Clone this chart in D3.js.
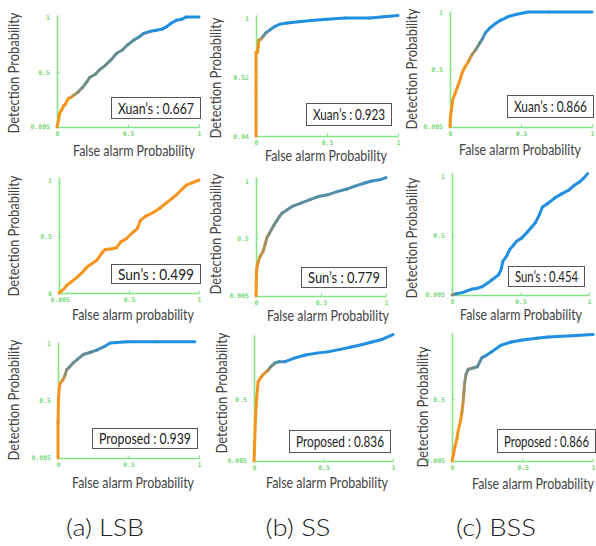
<!DOCTYPE html>
<html>
<head>
<meta charset="utf-8">
<script src="https://cdn.jsdelivr.net/npm/d3@7"></script>
<style>
  html, body { margin: 0; padding: 0; background: #fff; }
  svg { display: block; }
</style>
</head>
<body>
<svg id="chart" width="596" height="546"></svg>
<script>
// ---------- DATA ----------
// each point: [false alarm probability, detection probability, colour mix (0 = orange, 1 = blue)]
const lsbXuan = [[0,0,0],[0.01,0.06,0],[0.02,0.13,0],[0.035,0.16,0],[0.045,0.19,0],[0.06,0.21,0],[0.08,0.26,0],[0.1,0.27,0.05],[0.12,0.29,0.2],[0.15,0.32,0.4],[0.18,0.36,0.5],[0.21,0.41,0.5],[0.23,0.45,0.5],[0.27,0.48,0.5],[0.30,0.52,0.5],[0.34,0.56,0.52],[0.38,0.61,0.55],[0.42,0.67,0.55],[0.46,0.70,0.58],[0.50,0.75,0.6],[0.54,0.79,0.62],[0.58,0.82,0.7],[0.61,0.85,0.8],[0.66,0.87,0.9],[0.70,0.88,1],[0.74,0.89,1],[0.77,0.91,1],[0.80,0.94,1],[0.84,0.97,1],[0.88,0.98,1],[0.91,1.0,1],[1,1,1]];
const ssXuan = [[0,0.04,0],[0,0.4,0],[0,0.72,0],[0.01,0.72,0],[0.015,0.76,0],[0.02,0.82,0.05],[0.035,0.83,0.2],[0.05,0.85,0.45],[0.07,0.88,0.6],[0.1,0.905,0.8],[0.13,0.93,0.95],[0.17,0.95,1],[0.22,0.96,1],[0.3,0.97,1],[0.39,0.98,1],[0.5,0.99,1],[0.63,1.0,1],[0.8,1.0,1],[0.9,1.01,1],[1,1.02,1]];
const bssXuan = [[0,0,0],[0.003,0.09,0],[0.01,0.15,0],[0.02,0.24,0],[0.035,0.29,0],[0.05,0.34,0],[0.065,0.39,0],[0.085,0.47,0],[0.105,0.52,0],[0.13,0.57,0.05],[0.155,0.63,0.2],[0.18,0.67,0.4],[0.21,0.73,0.55],[0.23,0.77,0.65],[0.25,0.82,0.8],[0.28,0.86,0.95],[0.32,0.90,1],[0.36,0.93,1],[0.41,0.96,1],[0.47,0.98,1],[0.55,1.0,1],[0.7,1.0,1],[1,1.0,1]];
const lsbSun = [[0,0,0],[0.03,0.03,0],[0.057,0.07,0],[0.09,0.1,0],[0.13,0.14,0],[0.165,0.18,0],[0.2,0.23,0],[0.235,0.26,0],[0.27,0.29,0],[0.31,0.36,0],[0.33,0.385,0],[0.37,0.39,0],[0.41,0.40,0],[0.44,0.45,0],[0.48,0.48,0],[0.53,0.54,0],[0.56,0.57,0],[0.58,0.64,0],[0.62,0.68,0],[0.67,0.71,0],[0.72,0.75,0],[0.77,0.80,0],[0.81,0.84,0],[0.84,0.87,0],[0.88,0.92,0],[0.91,0.955,0],[0.95,0.975,0],[1,1.0,0]];
const ssSun = [[0,0,0],[0.002,0.1,0],[0.005,0.23,0],[0.015,0.29,0.05],[0.03,0.34,0.15],[0.055,0.39,0.25],[0.07,0.45,0.3],[0.085,0.51,0.35],[0.1,0.54,0.4],[0.12,0.58,0.45],[0.14,0.62,0.5],[0.16,0.655,0.5],[0.18,0.69,0.55],[0.2,0.72,0.55],[0.24,0.75,0.6],[0.28,0.78,0.6],[0.35,0.81,0.62],[0.42,0.84,0.65],[0.48,0.865,0.65],[0.55,0.88,0.68],[0.63,0.91,0.7],[0.7,0.93,0.72],[0.76,0.955,0.75],[0.83,0.98,0.78],[0.89,1.0,0.8],[0.95,1.01,0.82],[1,1.03,0.85]];
const bssSun = [[0,0,0],[0.03,0.01,0.9],[0.073,0.02,1],[0.11,0.035,1],[0.146,0.05,1],[0.18,0.055,1],[0.22,0.07,1],[0.26,0.1,1],[0.29,0.125,1],[0.34,0.17,1],[0.36,0.22,1],[0.37,0.28,1],[0.4,0.33,1],[0.42,0.38,1],[0.45,0.42,1],[0.47,0.45,1],[0.51,0.48,1],[0.55,0.53,1],[0.58,0.57,1],[0.61,0.61,1],[0.64,0.68,1],[0.66,0.74,1],[0.7,0.77,1],[0.75,0.815,1],[0.8,0.85,1],[0.85,0.88,1],[0.89,0.92,1],[0.93,0.95,1],[0.96,0.98,1],[0.99,1.02,1]];
const lsbProp = [[0,0,0],[0,0.3,0],[0.003,0.5,0],[0.008,0.6,0],[0.015,0.65,0],[0.035,0.68,0.1],[0.05,0.72,0.3],[0.06,0.765,0.45],[0.08,0.79,0.5],[0.11,0.83,0.55],[0.14,0.86,0.55],[0.18,0.9,0.6],[0.23,0.92,0.6],[0.28,0.94,0.7],[0.33,0.97,0.85],[0.37,1.0,1],[0.49,1.01,1],[0.7,1.01,1],[0.97,1.01,1]];
const ssProp = [[0,0,0],[0.005,0.15,0],[0.01,0.33,0],[0.02,0.52,0],[0.03,0.64,0],[0.06,0.69,0],[0.1,0.73,0.2],[0.12,0.76,0.45],[0.15,0.79,0.55],[0.18,0.8,0.7],[0.22,0.80,0.85],[0.29,0.83,1],[0.37,0.855,1],[0.45,0.87,1],[0.53,0.88,1],[0.62,0.9,1],[0.7,0.92,1],[0.78,0.94,1],[0.85,0.96,1],[0.92,0.98,1],[1,1.02,1]];
const bssProp = [[0,0,0],[0.01,0.05,0],[0.02,0.11,0],[0.035,0.18,0],[0.045,0.25,0],[0.06,0.32,0],[0.07,0.39,0.05],[0.08,0.49,0.25],[0.085,0.56,0.3],[0.09,0.63,0.35],[0.1,0.7,0.45],[0.115,0.74,0.5],[0.15,0.75,0.5],[0.18,0.76,0.55],[0.21,0.83,0.7],[0.24,0.85,0.85],[0.28,0.88,1],[0.35,0.935,1],[0.42,0.96,1],[0.5,0.975,1],[0.6,0.99,1],[0.68,1.0,1],[0.85,1.01,1],[1,1.02,1]];

const aucLabels = ["Xuan\u2019s : 0.667","Xuan\u2019s : 0.923","Xuan\u2019s : 0.866",
                   "Sun\u2019s : 0.499","Sun\u2019s :  0.779","Sun\u2019s : 0.454",
                   "Proposed : 0.939","Proposed : 0.836","Proposed : 0.866"];
const xTitles = ["False alarm Probability","False alarm Probability","False alarm Probability",
                 "False alarm probability","False alarm Probability","False alarm Probability",
                 "False alarm Probability","False alarm Probability","False alarm Probability"];
const yTitle = "Detection Probability";
const yTickSets = [[0.005,0.5,1],[0.04,0.52,1],[0.005,0.5,1],
                   [0,0.5,1],[0.005,0.5,1],[0.005,0.5,1],
                   [0.005,0.5,1],[0.005,0.5],[0.005,0.5]];
const xTickSets = [[0,0.5,1],[0,0.5,1],[0,0.5,1],
                   [0.005,0.5,1],[0,0.5,1],[0,0.5,1],
                   [0,0.5,1],[0,0.5,1],[0,0.5,1]];
const captions = ["(a)  LSB","(b)  SS","(c)  BSS"];
const curves = [lsbXuan, ssXuan, bssXuan, lsbSun, ssSun, bssSun, lsbProp, ssProp, bssProp];

// ---------- LAYOUT (pixels) ----------
const layout = [
  {x:[57,199],  y:[127,17],  yd:[0,1],    axTop:15,  title:[14,73],   xt:[134,156], box:[111,97,89,21]},
  {x:[256,398], y:[136,18],  yd:[0.04,1], axTop:15,  title:[216,78],  xt:[326,161], box:[306,103,85,22]},
  {x:[450,592], y:[127,12],  yd:[0,1],    axTop:11,  title:[412,69],  xt:[520,155], box:[507,95,86,22]},
  {x:[59,199],  y:[293,180], yd:[0,1],    axTop:177, title:[14,236],  xt:[133,320], box:[111,264,89,19]},
  {x:[256,386], y:[296,181], yd:[0,1],    axTop:177, title:[216,234], xt:[328,321], box:[301,267,85,20]},
  {x:[452,589], y:[295,176], yd:[0,1],    axTop:173, title:[412,238], xt:[521,320], box:[508,266,76,20]},
  {x:[58,199],  y:[458,343], yd:[0,1],    axTop:342, title:[14,400],  xt:[133,488], box:[92,428,105,20]},
  {x:[254,393], y:[461,337], yd:[0,1],    axTop:335, title:[222,393], xt:[327,488], box:[289,430,101,22]},
  {x:[452,593], y:[461,337], yd:[0,1],    axTop:333, title:[423,407], xt:[533,489], box:[497,429,98,23]}
];
const captionPos = [[105,536,78],[298,536,65],[496,536,80]];

const green = "#84e384";
const tickGreen = "#78d878";
const textFont = "Lato, 'Noto Sans', sans-serif";
const colorScale = d3.scaleLinear().domain([0,0.5,1]).range(["#f7941d","#6f8d88","#1f8fe2"]).interpolate(d3.interpolateRgb);

const svg = d3.select("#chart");

curves.forEach((pts, i) => {
  const L = layout[i];
  const xs = d3.scaleLinear().domain([0,1]).range(L.x);
  const ys = d3.scaleLinear().domain(L.yd).range(L.y);
  const g = svg.append("g");

  // axes
  const yAxisScale = ys.copy().domain([L.yd[0], ys.invert(L.axTop)]).range([L.y[0], L.axTop]);
  const yAxis = d3.axisLeft(yAxisScale).tickValues(yTickSets[i]).tickSize(0).tickPadding(7)
                  .tickFormat(d => String(d));
  const ya = g.append("g").attr("transform", `translate(${L.x[0]},0)`).call(yAxis);
  const xAxis = d3.axisBottom(xs).tickValues(xTickSets[i]).tickSizeInner(-2.5).tickSizeOuter(0).tickPadding(4)
                  .tickFormat(d => String(d));
  const xa = g.append("g").attr("transform", `translate(0,${L.y[0]})`).call(xAxis);
  [ya, xa].forEach(a => {
    a.select(".domain").attr("stroke", green).attr("stroke-width", 1.6);
    a.selectAll(".tick line").attr("stroke", green).attr("stroke-width", 1);
    a.selectAll(".tick text").attr("fill", tickGreen)
      .attr("font-family", "DejaVu Sans Mono, monospace").attr("font-size", 6.5).attr("font-weight", "bold");
  });
  ya.selectAll(".tick").filter(d => d === 0.5 || d === 0.52)
    .append("line").attr("x1", 0).attr("x2", 2.5).attr("stroke", green);

  // curve as coloured segments
  const segs = d3.pairs(pts);
  g.append("g").selectAll("line").data(segs).join("line")
    .attr("x1", d => xs(d[0][0])).attr("y1", d => ys(d[0][1]))
    .attr("x2", d => xs(d[1][0])).attr("y2", d => ys(d[1][1]))
    .attr("stroke", d => colorScale((d[0][2] + d[1][2]) / 2))
    .attr("stroke-width", 3).attr("stroke-linecap", "round");

  // axis titles
  g.append("text").attr("transform", `translate(${L.title[0]},${L.title[1]}) rotate(-90)`)
    .attr("text-anchor", "middle").attr("dy", "0.35em")
    .attr("font-family", textFont).attr("font-size", 15).attr("fill", "#444")
    .attr("textLength", 121).attr("lengthAdjust", "spacingAndGlyphs").text(yTitle);
  g.append("text").attr("x", L.xt[0]).attr("y", L.xt[1])
    .attr("text-anchor", "middle")
    .attr("font-family", textFont).attr("font-size", 15).attr("fill", "#444")
    .attr("textLength", 122).attr("lengthAdjust", "spacingAndGlyphs").text(xTitles[i]);

  // AUC box
  const b = L.box;
  g.append("rect").attr("x", b[0] + 0.5).attr("y", b[1] + 0.5).attr("width", b[2]).attr("height", b[3])
    .attr("fill", "#fff").attr("stroke", "#555").attr("stroke-width", 1);
  g.append("text").attr("x", b[0] + b[2] / 2 + 0.5).attr("y", b[1] + b[3] / 2 + 1).attr("dy", "0.35em")
    .attr("text-anchor", "middle")
    .attr("font-family", textFont).attr("font-size", 14.5).attr("fill", "#222")
    .attr("textLength", b[2] - 13).attr("lengthAdjust", "spacingAndGlyphs").text(aucLabels[i]);
});

// captions
captions.forEach((c, i) => {
  const p = captionPos[i];
  svg.append("text").attr("x", p[0]).attr("y", p[1]).attr("text-anchor", "middle")
    .attr("font-family", "Lato, 'Noto Sans', sans-serif").attr("font-weight", 300).attr("font-size", 23)
    .attr("fill", "#222").attr("textLength", p[2]).attr("lengthAdjust", "spacingAndGlyphs").text(c);
});
</script>
</body>
</html>
